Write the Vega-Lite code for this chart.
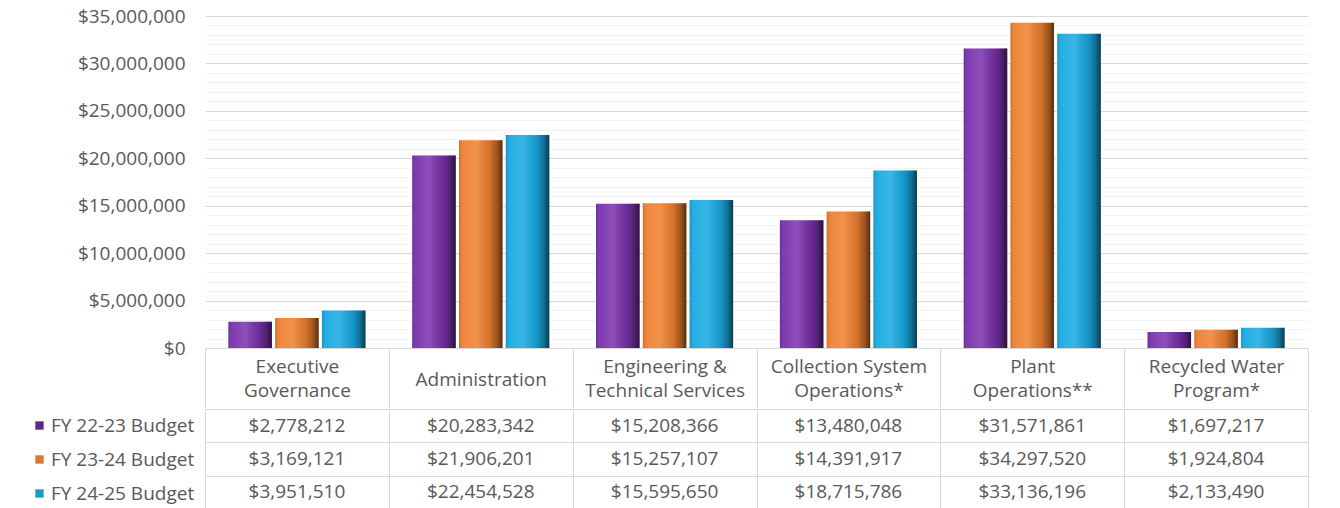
{
  "$schema": "https://vega.github.io/schema/vega-lite/v6.json",
  "background": "white",
  "padding": {"left": 22, "top": 7, "right": 10, "bottom": 0},
  "config": {
    "font": "Open Sans",
    "view": {"stroke": null},
    "axis": {"labelFont": "Open Sans", "titleFont": "Open Sans"},
    "legend": {"labelFont": "Open Sans"}
  },
  "spacing": 0,
  "resolve": {
    "scale": {"x": "independent", "color": "independent"},
    "legend": {"color": "independent"}
  },
  "datasets": {
    "budget": [
      {"category": "Executive Governance", "series": "FY 22-23 Budget", "value": 2778212},
      {"category": "Executive Governance", "series": "FY 23-24 Budget", "value": 3169121},
      {"category": "Executive Governance", "series": "FY 24-25 Budget", "value": 3951510},
      {"category": "Administration", "series": "FY 22-23 Budget", "value": 20283342},
      {"category": "Administration", "series": "FY 23-24 Budget", "value": 21906201},
      {"category": "Administration", "series": "FY 24-25 Budget", "value": 22454528},
      {"category": "Engineering & Technical Services", "series": "FY 22-23 Budget", "value": 15208366},
      {"category": "Engineering & Technical Services", "series": "FY 23-24 Budget", "value": 15257107},
      {"category": "Engineering & Technical Services", "series": "FY 24-25 Budget", "value": 15595650},
      {"category": "Collection System Operations*", "series": "FY 22-23 Budget", "value": 13480048},
      {"category": "Collection System Operations*", "series": "FY 23-24 Budget", "value": 14391917},
      {"category": "Collection System Operations*", "series": "FY 24-25 Budget", "value": 18715786},
      {"category": "Plant Operations**", "series": "FY 22-23 Budget", "value": 31571861},
      {"category": "Plant Operations**", "series": "FY 23-24 Budget", "value": 34297520},
      {"category": "Plant Operations**", "series": "FY 24-25 Budget", "value": 33136196},
      {"category": "Recycled Water Program*", "series": "FY 22-23 Budget", "value": 1697217},
      {"category": "Recycled Water Program*", "series": "FY 23-24 Budget", "value": 1924804},
      {"category": "Recycled Water Program*", "series": "FY 24-25 Budget", "value": 2133490}
    ]
  },
  "vconcat": [
    {
      "width": 1103,
      "height": 332,
      "data": {"name": "budget"},
      "resolve": {"axis": {"y": "independent"}},
      "layer": [
        {
          "mark": {"type": "bar"},
          "encoding": {
            "x": {
              "field": "category", "type": "nominal", "sort": null,
              "scale": {"paddingInner": 0, "paddingOuter": 0},
              "axis": {
                "title": null, "orient": "bottom",
                "domain": true, "domainColor": "#d9d9d9", "domainWidth": 1,
                "ticks": true, "tickBand": "extent", "tickSize": 59, "tickColor": "#d9d9d9", "tickWidth": 1,
                "labelAngle": 0, "labelFontSize": 19, "labelColor": "#595959",
                "labelBaseline": "middle",
                "labelPadding": {"condition": {"test": "datum.value == 'Administration'", "value": -28}, "value": -41},
                "labelLineHeight": 24,
                "labelLimit": 400, "labelOverlap": false, "labelBound": false,
                "labelExpr": "datum.value == 'Executive Governance' ? ['Executive', 'Governance'] : datum.value == 'Engineering & Technical Services' ? ['Engineering &', 'Technical Services'] : datum.value == 'Collection System Operations*' ? ['Collection System', 'Operations*'] : datum.value == 'Plant Operations**' ? ['Plant', 'Operations**'] : datum.value == 'Recycled Water Program*' ? ['Recycled Water', 'Program*'] : datum.value"
              }
            },
            "xOffset": {"field": "series", "type": "nominal", "sort": null, "scale": {"paddingInner": 0.07, "paddingOuter": 0.5}},
            "y": {
              "field": "value", "type": "quantitative",
              "scale": {"domain": [0, 35000000], "nice": false},
              "axis": {
                "title": null, "values": [0, 5000000, 10000000, 15000000, 20000000, 25000000, 30000000, 35000000],
                "format": "$,.0f", "domain": false, "ticks": false,
                "labelFontSize": 19, "labelColor": "#595959", "labelPadding": 20,
                "grid": true, "gridColor": "#d9d9d9", "gridWidth": 1
              }
            },
            "color": {
              "field": "series", "type": "nominal", "sort": null,
              "scale": {"range": ["#7A32AD", "#EE8030", "#19AAE2"]},
              "legend": null
            }
          }
        },
        {
          "mark": {
            "type": "bar",
            "fill": {
              "gradient": "linear", "x1": 0, "x2": 1, "y1": 0, "y2": 0,
              "stops": [
                {"offset": 0, "color": "rgba(0,0,0,0.15)"},
                {"offset": 0.1, "color": "rgba(255,255,255,0.05)"},
                {"offset": 0.4, "color": "rgba(255,255,255,0.14)"},
                {"offset": 0.7, "color": "rgba(0,0,0,0.1)"},
                {"offset": 0.88, "color": "rgba(0,0,0,0.35)"},
                {"offset": 1, "color": "rgba(0,0,0,0.65)"}
              ]
            }
          },
          "encoding": {
            "x": {"field": "category", "type": "nominal", "sort": null},
            "xOffset": {"field": "series", "type": "nominal", "sort": null},
            "y": {
              "field": "value", "type": "quantitative",
              "axis": {
                "title": null, "orient": "left", "labels": false, "domain": false, "ticks": false,
                "values": [1000000, 2000000, 3000000, 4000000, 6000000, 7000000, 8000000, 9000000, 11000000, 12000000, 13000000, 14000000, 16000000, 17000000, 18000000, 19000000, 21000000, 22000000, 23000000, 24000000, 26000000, 27000000, 28000000, 29000000, 31000000, 32000000, 33000000, 34000000],
                "grid": true, "gridColor": "#f3f3f3", "gridWidth": 1
              }
            }
          }
        }
      ]
    },
    {
      "width": 1103,
      "height": 100,
      "data": {"name": "budget"},
      "view": {"stroke": "#d9d9d9", "strokeWidth": 1},
      "encoding": {
        "x": {
          "field": "category", "type": "nominal", "sort": null,
          "scale": {"paddingInner": 0, "paddingOuter": 0},
          "axis": {"title": null, "orient": "top", "labels": false, "ticks": false, "domain": false, "grid": true, "tickBand": "extent", "gridColor": "#d9d9d9"}
        },
        "y": {
          "field": "series", "type": "nominal", "sort": null,
          "scale": {"paddingInner": 0, "paddingOuter": 0},
          "axis": {"title": null, "labels": false, "ticks": false, "domain": false, "grid": true, "tickBand": "extent", "gridColor": "#d9d9d9"}
        }
      },
      "layer": [
        {
          "mark": {"type": "rect", "opacity": 0},
          "encoding": {
            "color": {
              "field": "series", "type": "nominal", "sort": null,
              "scale": {"range": ["#5B2A86", "#D9773A", "#1C9CC0"]},
              "legend": {
                "title": null, "orient": "left", "symbolType": "square", "symbolSize": 70,
                "symbolOpacity": 1, "symbolStrokeWidth": 0,
                "labelFontSize": 19, "labelColor": "#595959", "labelOffset": 2,
                "rowPadding": 14, "padding": 7, "offset": 3
              }
            }
          }
        },
        {
          "mark": {"type": "text", "fontSize": 19, "color": "#595959", "baseline": "middle", "align": "center"},
          "encoding": {
            "text": {"field": "value", "type": "quantitative", "format": "$,.0f"}
          }
        }
      ]
    }
  ]
}
